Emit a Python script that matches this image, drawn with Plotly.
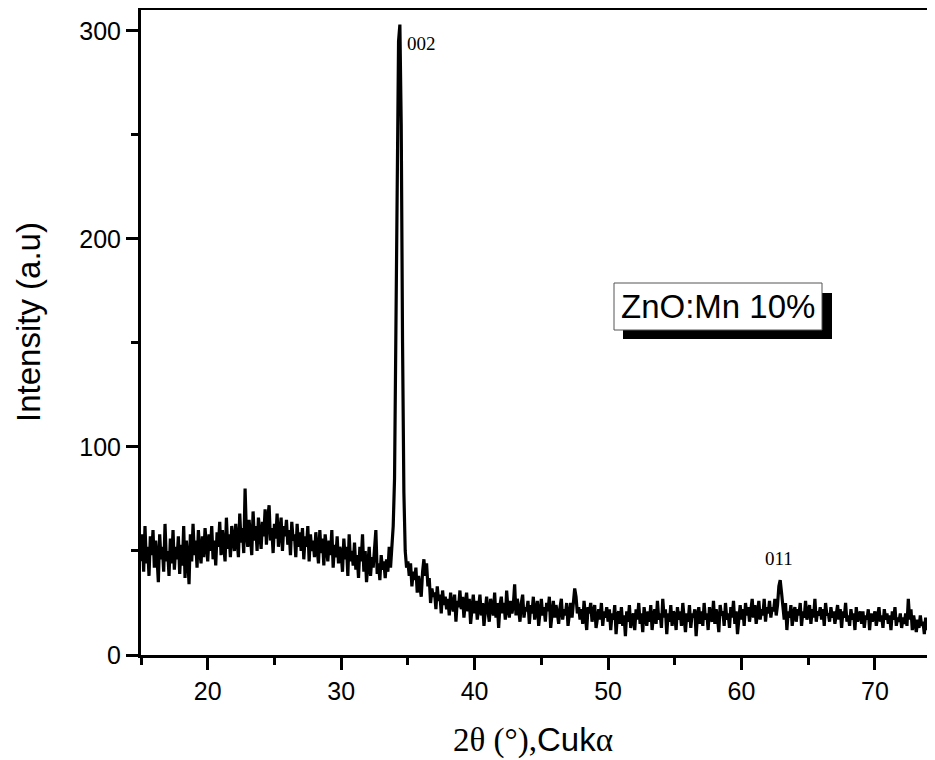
import plotly.graph_objects as go

# ---- data ----
two_theta_start = 15.0
two_theta_step = 0.1

intensity = [
    # 15
    45, 58, 40, 62, 44, 52, 38, 57, 48, 60,
    # 16
    42, 55, 47, 35, 58, 46, 52, 40, 63, 45,
    # 17
    50, 38, 56, 44, 60, 41, 52, 46, 57, 39,
    # 18
    53, 43, 62, 37, 55, 47, 34, 58, 45, 63,
    # 19
    48, 55, 42, 60, 50, 44, 57, 47, 61, 52,
    # 20
    45, 58, 50, 62, 46, 55, 43, 59, 52, 64,
    # 21
    48, 60, 53, 45, 66, 51, 58, 47, 62, 55,
    # 22
    50, 63, 56, 47, 68, 54, 61, 49, 80, 58,
    # 23
    52, 65, 57, 48, 69, 55, 62, 50, 66, 58,
    # 24
    51, 64, 57, 70, 53, 66, 72, 55, 61, 49,
    # 25
    63, 56, 68, 52, 60, 66, 50, 62, 57, 65,
    # 26
    53, 60, 48, 64, 55, 58, 47, 63, 52, 59,
    # 27
    50, 61, 46, 57, 52, 62, 45, 58, 50, 55,
    # 28
    47, 59, 51, 44, 60, 49, 56, 43, 58, 50,
    # 29
    45, 55, 48, 60, 42, 53, 47, 57, 44, 52,
    # 30
    49, 40, 56, 46, 52, 38, 58, 45, 50, 43,
    # 31
    54, 41, 48, 37, 52, 45, 58, 40, 50, 35,
    # 32
    46, 52, 38, 47, 42, 50, 60, 39, 44, 36,
    # 33
    48, 41, 45, 37, 46, 40, 52, 42, 55, 62,
    # 34
    85, 150, 240, 295, 303, 255, 150, 78, 50, 42,
    # 35
    45, 38, 44, 33, 40, 36, 42, 30, 38, 34,
    # 36
    28, 40, 46, 38, 44, 33, 37, 25, 32, 28,
    # 37
    30, 22, 33, 26, 29, 20, 31, 24, 28, 22,
    # 38
    27, 19, 30, 24, 21, 29, 16, 26, 23, 31,
    # 39
    22, 28, 18, 25, 30, 21, 27, 15, 24, 29,
    # 40
    20, 26, 17, 24, 29, 19, 25, 14, 23, 28,
    # 41
    21, 16, 27, 22, 19, 30, 18, 25, 13, 24,
    # 42
    28, 20, 25, 17, 31, 22, 18, 26, 20, 24,
    # 43
    34, 19, 27, 22, 16, 25, 29, 18, 23, 21,
    # 44
    26, 15, 24, 20, 28, 17, 23, 26, 14, 22,
    # 45
    27, 19, 23, 16, 25, 21, 28, 13, 22, 26,
    # 46
    18, 24, 20, 15, 23, 27, 17, 22, 19, 25,
    # 47
    14, 21, 25, 18, 24, 32, 28, 20, 23, 17,
    # 48
    22, 15, 26, 19, 12, 23, 20, 25, 16, 21,
    # 49
    24, 13, 19, 22, 17, 25, 14, 21, 18, 23,
    # 50
    16, 22, 12, 20, 17, 24, 10, 19, 21, 15,
    # 51
    23, 14, 19, 9, 21, 16, 24, 13, 18, 20,
    # 52
    12, 22, 17, 25, 15, 20, 11, 23, 18, 14,
    # 53
    21, 16, 24, 12, 19, 22, 15, 26, 17, 20,
    # 54
    13, 27, 18, 22, 10, 20, 16, 24, 14, 21,
    # 55
    19, 12, 23, 17, 21, 14, 25, 18, 11, 20,
    # 56
    16, 24, 13, 20, 18, 22, 9, 19, 23, 15,
    # 57
    21, 14, 25, 17, 20, 12, 23, 18, 16, 26,
    # 58
    15, 22, 18, 11, 24, 19, 21, 14, 25, 17,
    # 59
    20, 13, 23, 18, 26, 15, 21, 10, 19, 24,
    # 60
    17, 22, 14, 25, 19, 23, 16, 21, 27, 18,
    # 61
    24, 15, 20, 26, 17, 22, 19, 27, 16, 23,
    # 62
    20, 26, 18, 23, 21, 27, 19, 24, 33, 36,
    # 63
    30, 22, 17, 25, 12, 21, 18, 24, 14, 20,
    # 64
    23, 16, 22, 19, 25, 14, 21, 18, 26, 17,
    # 65
    20, 24, 15, 22, 18, 27, 16, 21, 19, 23,
    # 66
    17, 22, 14, 25, 19, 20, 16, 23, 18, 21,
    # 67
    15, 20, 24, 17, 22, 13, 21, 18, 25, 16,
    # 68
    19, 14, 22, 17, 20, 12, 23, 16, 19, 21,
    # 69
    15, 21, 13, 19, 17, 22, 12, 20, 16, 18,
    # 70
    21, 14, 18, 23, 16, 19, 13, 22, 17, 20,
    # 71
    15, 19, 12, 21, 17, 23, 14, 18, 16, 20,
    # 72
    13, 18, 15, 20, 14, 27, 17, 22, 12, 19,
    # 73
    15, 11, 17, 13, 19, 14, 16, 10, 18, 12,
    # 74
    14, 9, 13, 11, 10, 8,
]

two_theta = [round(two_theta_start + i * two_theta_step, 2) for i in range(len(intensity))]

peak_labels = ["002", "011"]
peak_label_x = [34.78, 61.6]
peak_label_y = [293.7, 46.6]

sample_label = "ZnO:Mn 10%"

# ---- geometry (page has an 8px body margin; figure is offset by it) ----
OFF = 8
W, H = 935 - OFF, 760 - OFF
L, R, T, B = 141 - OFF, 0, 10 - OFF, 760 - 655
PW, PH = W - L - R, H - T - B


def px(x):
    """reference page pixel x -> paper coordinate"""
    return (x - OFF - L) / PW


def py(y):
    """reference page pixel y -> paper coordinate"""
    return (H - B - (y - OFF)) / PH


fig = go.Figure()
fig.add_trace(go.Scatter(
    x=two_theta, y=intensity, mode="lines",
    line=dict(color="black", width=3.2),
    showlegend=False, hoverinfo="skip",
))

axis_font = dict(family="Liberation Sans, Arial, sans-serif", size=25, color="black")

fig.update_layout(
    width=W, height=H,
    margin=dict(l=L, r=R, t=T, b=B, pad=0),
    paper_bgcolor="white", plot_bgcolor="white",
    xaxis=dict(
        range=[15, 74.5], tickmode="linear", tick0=10, dtick=10,
        ticks="outside", ticklen=12, tickwidth=2.5, tickcolor="black",
        minor=dict(ticks="outside", ticklen=7, tickwidth=2.5, tickcolor="black", dtick=5, tick0=0),
        showline=True, linewidth=3, linecolor="black", mirror=True,
        showgrid=False, zeroline=False, tickfont=axis_font,
    ),
    yaxis=dict(
        range=[0, 310], tickmode="linear", tick0=0, dtick=100,
        ticks="outside", ticklen=12, tickwidth=2.5, tickcolor="black",
        minor=dict(ticks="outside", ticklen=7, tickwidth=2.5, tickcolor="black", dtick=50, tick0=0),
        showline=True, linewidth=3, linecolor="black", mirror=False,
        showgrid=False, zeroline=False, tickfont=axis_font,
    ),
)

# sample label box with drop shadow
fig.add_shape(type="rect", xref="paper", yref="paper",
              x0=px(623), x1=px(832), y0=py(339), y1=py(293),
              fillcolor="black", line=dict(width=0), layer="above")
fig.add_shape(type="rect", xref="paper", yref="paper",
              x0=px(614), x1=px(822), y0=py(330), y1=py(283),
              fillcolor="white", line=dict(color="#555555", width=1), layer="above")
fig.add_annotation(xref="paper", yref="paper", x=px(718), y=py(307),
                   text=sample_label, showarrow=False,
                   xanchor="center", yanchor="middle",
                   font=dict(family="Liberation Sans, Arial, sans-serif", size=33, color="black"))

# peak labels
for lab, lx, ly in zip(peak_labels, peak_label_x, peak_label_y):
    fig.add_annotation(x=lx, y=ly, xref="x", yref="y", text=lab, showarrow=False,
                       xanchor="left", yanchor="middle",
                       font=dict(family="Liberation Serif, Times New Roman, serif", size=19, color="black"))

# axis titles
fig.add_annotation(xref="paper", yref="paper", x=px(533), y=py(740),
                   text='<span style="font-family:Liberation Serif">2θ (°),</span>Cuk'
                        '<span style="font-family:Liberation Serif">α</span>',
                   showarrow=False, xanchor="center", yanchor="middle",
                   font=dict(family="Liberation Sans, Arial, sans-serif", size=33, color="black"))
fig.add_annotation(xref="paper", yref="paper", x=px(28), y=py(322),
                   text="Intensity (a.u)", textangle=-90,
                   showarrow=False, xanchor="center", yanchor="middle",
                   font=dict(family="Liberation Sans, Arial, sans-serif", size=33, color="black"))

fig.write_html("out.html")
